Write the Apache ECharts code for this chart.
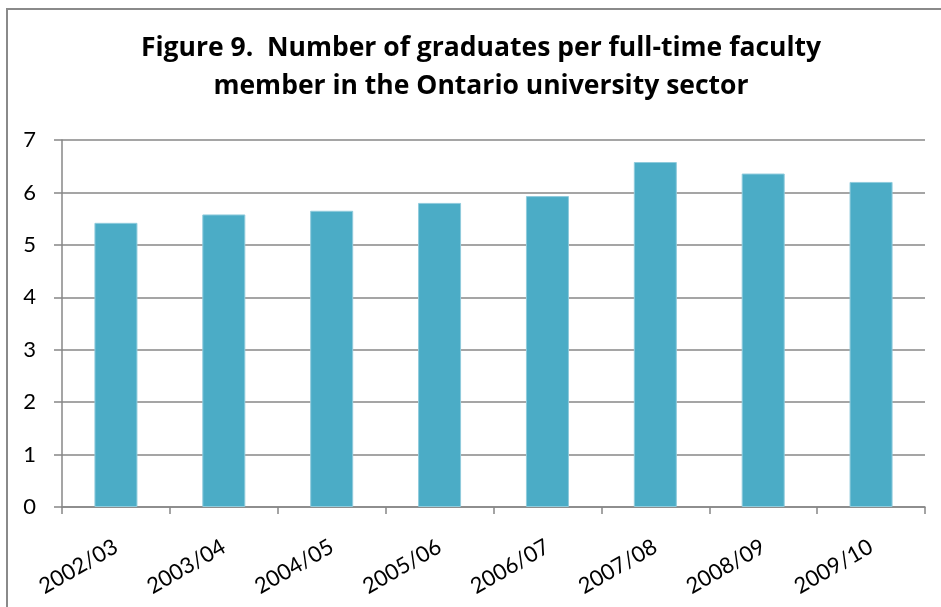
<!DOCTYPE html>
<html>
<head>
<meta charset="utf-8">
<script src="https://cdn.jsdelivr.net/npm/echarts@6/dist/echarts.min.js"></script>
<style>
  html, body { margin: 0; padding: 0; background: #fff; }
  #chart { width: 941px; height: 607px; }
</style>
</head>
<body>
<div id="chart"></div>
<script>
// Academic years shown along the horizontal axis
const years = ['2002/03', '2003/04', '2004/05', '2005/06', '2006/07', '2007/08', '2008/09', '2009/10'];
// Graduates per full-time faculty member
const gradsPerFaculty = [5.42, 5.58, 5.65, 5.80, 5.93, 6.58, 6.36, 6.20];
// Title lines
const titleLines = ['Figure 9.  Number of graduates per full-time faculty', 'member in the Ontario university sector'];

const chart = echarts.init(document.getElementById('chart'), null, { renderer: 'canvas' });
const FONT = 'Lato, "Open Sans", sans-serif';
const TITLE_FONT = '"Open Sans", Lato, sans-serif';
const GRID_GREY = '#878787';

chart.setOption({
  animation: false,
  backgroundColor: '#ffffff',
  graphic: [
    {
      type: 'rect',
      shape: { x: 7, y: 9, width: 980, height: 700 },
      style: { fill: 'none', stroke: '#8a8a8a', lineWidth: 2 },
      silent: true
    },
    {
      type: 'text',
      x: 481, y: 29,
      style: {
        text: titleLines.join('\n'),
        textAlign: 'center',
        textVerticalAlign: 'top',
        font: 'bold 26.5px ' + TITLE_FONT,
        lineHeight: 38,
        fill: '#000'
      }
    }
  ],
  grid: { left: 62, right: 16, top: 140, bottom: 100, containLabel: false },
  xAxis: {
    type: 'category',
    data: years,
    axisLine: { lineStyle: { color: GRID_GREY, width: 1.5 } },
    axisTick: { show: true, length: 7, lineStyle: { color: GRID_GREY, width: 1.5 } },
    axisLabel: { rotate: 30, margin: 38, color: '#000', fontSize: 22, fontFamily: FONT }
  },
  yAxis: {
    type: 'value',
    min: 0, max: 7, interval: 1,
    axisLine: { show: true, lineStyle: { color: GRID_GREY, width: 1.5 } },
    axisTick: { show: true, length: 8, lineStyle: { color: GRID_GREY, width: 1.5 } },
    axisLabel: { margin: 26, color: '#000', fontSize: 22, fontFamily: FONT },
    splitLine: { lineStyle: { color: GRID_GREY, width: 1.5 } }
  },
  series: [{
    type: 'bar',
    data: gradsPerFaculty,
    barWidth: 43,
    itemStyle: { color: '#4BACC6', borderColor: '#8fcbdc', borderWidth: 1 }
  }]
});
</script>
</body>
</html>
